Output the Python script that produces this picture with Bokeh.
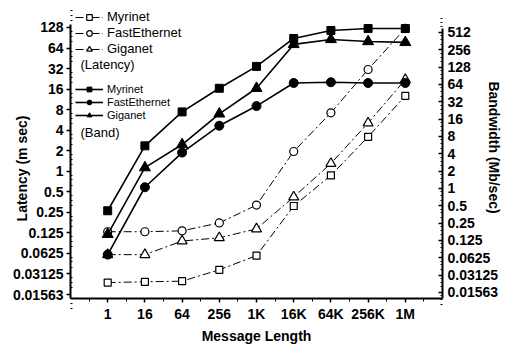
import math
from bokeh.plotting import figure
from bokeh.models import (Range1d, LogAxis, LogScale, FixedTicker, CustomJSTickFormatter,
                          Legend, LegendItem, Label)
from bokeh.embed import file_html
from bokeh.resources import INLINE

# ---------------- data ----------------
msg_labels = ["1", "16", "64", "256", "1K", "16K", "64K", "256K", "1M"]
networks = ["Myrinet", "FastEthernet", "Giganet"]

# latency (m sec), left axis
lat_myrinet = [0.0234, 0.024, 0.0245, 0.036, 0.058, 0.31, 0.87, 3.2, 12.7]
lat_fast = [0.13, 0.13, 0.134, 0.175, 0.32, 1.95, 7.2, 31, 124]
lat_giga = [0.06, 0.06, 0.095, 0.106, 0.143, 0.42, 1.3, 5.1, 22]

# bandwidth (Mb/sec), right axis
bw_myrinet = [0.41, 5.5, 21.4, 55, 132, 403, 555, 600, 600]
bw_fast = [0.071, 1.05, 4.2, 12.3, 27, 68, 70, 68, 68]
bw_giga = [0.16, 2.3, 5.8, 19.8, 55, 318, 388, 357, 345]

lat_exps = list(range(-6, 8))
lat_tick_labels = ["0.01563", "0.03125", "0.0625", "0.125", "0.25", "0.5", "1",
                   "2", "4", "8", "16", "32", "64", "128"]
bw_exps = list(range(-6, 10))
bw_tick_labels = ["0.01563", "0.03125", "0.0625", "0.125", "0.25", "0.5", "1",
                  "2", "4", "8", "16", "32", "64", "128", "256", "512"]

FONT = "Liberation Sans"
x = list(range(1, len(msg_labels) + 1))

W, H = 510, 349
# frame covers the whole canvas; axes are drawn at fixed locations inside it
p = figure(width=W, height=H, x_range=Range1d(-70 / 37.2, 440 / 37.2),
           y_range=Range1d(2 ** -8.677, 2 ** 8.3145), y_axis_type="log",
           output_backend="svg", toolbar_location=None,
           min_border=0, min_border_left=0, min_border_right=0,
           min_border_top=0, min_border_bottom=0)
p.extra_y_ranges = {"bw": Range1d(2 ** -9.292, 2 ** 10.8465)}
p.extra_y_scales = {"bw": LogScale()}
p.outline_line_color = None
p.grid.visible = False
p.background_fill_color = "white"
p.border_fill_color = "white"

x_lo, x_hi = 0, len(msg_labels) + 1
lat_lo, lat_hi = 2 ** -6.195, 2 ** 7.146
bw_lo, bw_hi = 2 ** -6.346, 2 ** 9.23

def fmt(ticks, labels):
    return CustomJSTickFormatter(args=dict(t=ticks, l=labels), code="""
        for (let i = 0; i < t.length; i++) {
            if (Math.abs(Math.log2(t[i]) - Math.log2(tick)) < 1e-6) return l[i];
        }
        return "";
    """)

def minors(exps):
    out = []
    for k in exps:
        for f in (1.25, 1.5, 1.75):
            out.append(f * 2.0 ** k)
    return out

# left axis
lat_ticks = [2.0 ** k for k in lat_exps]
ly = p.yaxis[0]
ly.ticker = FixedTicker(ticks=lat_ticks, minor_ticks=minors([-7] + lat_exps))
ly.formatter = fmt(lat_ticks, lat_tick_labels)
ly.bounds = (lat_lo, lat_hi)
ly.fixed_location = x_lo

# right axis
bw_ticks = [2.0 ** k for k in bw_exps]
ry = LogAxis(y_range_name="bw")
ry.ticker = FixedTicker(ticks=bw_ticks, minor_ticks=minors([-7] + bw_exps))
ry.formatter = fmt(bw_ticks, bw_tick_labels)
ry.bounds = (bw_lo, bw_hi)
ry.fixed_location = x_hi
p.add_layout(ry, "right")

# x axis
xa = p.xaxis[0]
xa.ticker = FixedTicker(ticks=x, minor_ticks=[i - 0.5 for i in x] + [x[-1] + 0.5])
xa.formatter = CustomJSTickFormatter(args=dict(l=msg_labels),
                                     code="const i = Math.round(tick) - 1; return (i >= 0 && i < l.length) ? l[i] : '';")
xa.bounds = (x_lo, x_hi)
xa.fixed_location = lat_lo

for ax in (ly, ry, xa):
    ax.axis_line_width = 2
    ax.axis_line_color = "black"
    ax.major_tick_line_width = 1.5
    ax.minor_tick_line_width = 1
    ax.major_tick_line_color = "black"
    ax.minor_tick_line_color = "black"
    ax.major_label_text_font = FONT
    ax.major_label_text_font_style = "bold"
    ax.major_label_text_font_size = "14px"
    ax.major_label_text_color = "black"

ly.major_tick_out = 4; ly.major_tick_in = 0; ly.minor_tick_out = 0; ly.minor_tick_in = 2
ly.major_label_standoff = 3
ry.major_tick_out = 0; ry.major_tick_in = 4; ry.minor_tick_out = 0; ry.minor_tick_in = 2
ry.major_label_standoff = 5
xa.major_tick_out = 4; xa.major_tick_in = 0; xa.minor_tick_out = 3; xa.minor_tick_in = 0
xa.major_label_standoff = 3

# ---------------- series ----------------
lat_series = [lat_myrinet, lat_fast, lat_giga]
bw_series = [bw_myrinet, bw_fast, bw_giga]
markers = ["square", "circle", "triangle"]
open_sizes = [7, 8, 10]
fill_sizes = [8, 9, 11]

lat_items, bw_items = [], []
for name, lat, m, s in zip(networks, lat_series, markers, open_sizes):
    lr = p.line(x, lat, line_color="black", line_width=1, line_dash="8 3 2 3")
    sr = p.scatter(x, lat, marker=m, size=s, fill_color="white", line_color="black", line_width=1.2)
    lat_items.append(LegendItem(label=name, renderers=[lr, sr]))

for name, bw, m, s in zip(networks, bw_series, markers, fill_sizes):
    lr = p.line(x, bw, y_range_name="bw", line_color="black", line_width=1.6)
    sr = p.scatter(x, bw, y_range_name="bw", marker=m, size=s, fill_color="black", line_color="black")
    bw_items.append(LegendItem(label=name, renderers=[lr, sr]))

def make_legend(items, loc, fs, h, sp):
    return Legend(items=items, location=loc, border_line_color=None, background_fill_alpha=0,
                  padding=0, margin=0, spacing=sp, glyph_width=28, glyph_height=h, label_height=h,
                  label_standoff=4, label_text_font=FONT, label_text_font_size=fs,
                  label_text_color="black")

p.add_layout(make_legend(lat_items, (75, 293), "13px", 14, 1), "center")
p.add_layout(make_legend(bw_items, (75, 228), "11px", 12, 1), "center")

def lab(text, sx, sy, angle=0.0, align="left", fs="13px", style="normal"):
    p.add_layout(Label(x=sx, y=sy, x_units="screen", y_units="screen", text=text, angle=angle,
                       text_align=align, text_baseline="middle", text_font=FONT,
                       text_font_size=fs, text_font_style=style, text_color="black"))

lab("(Latency)", 80, 285)
lab("(Band)", 80, 217)
lab("Latency (m sec)", 21, 181, angle=math.pi / 2, align="center", fs="14px", style="bold")
lab("Bandwidth (Mb/sec)", 493, 202, angle=-math.pi / 2, align="center", fs="14px", style="bold")
lab("Message Length", 256, 14, align="center", fs="14px", style="bold")

open("out.html", "w").write(file_html(p, INLINE))
